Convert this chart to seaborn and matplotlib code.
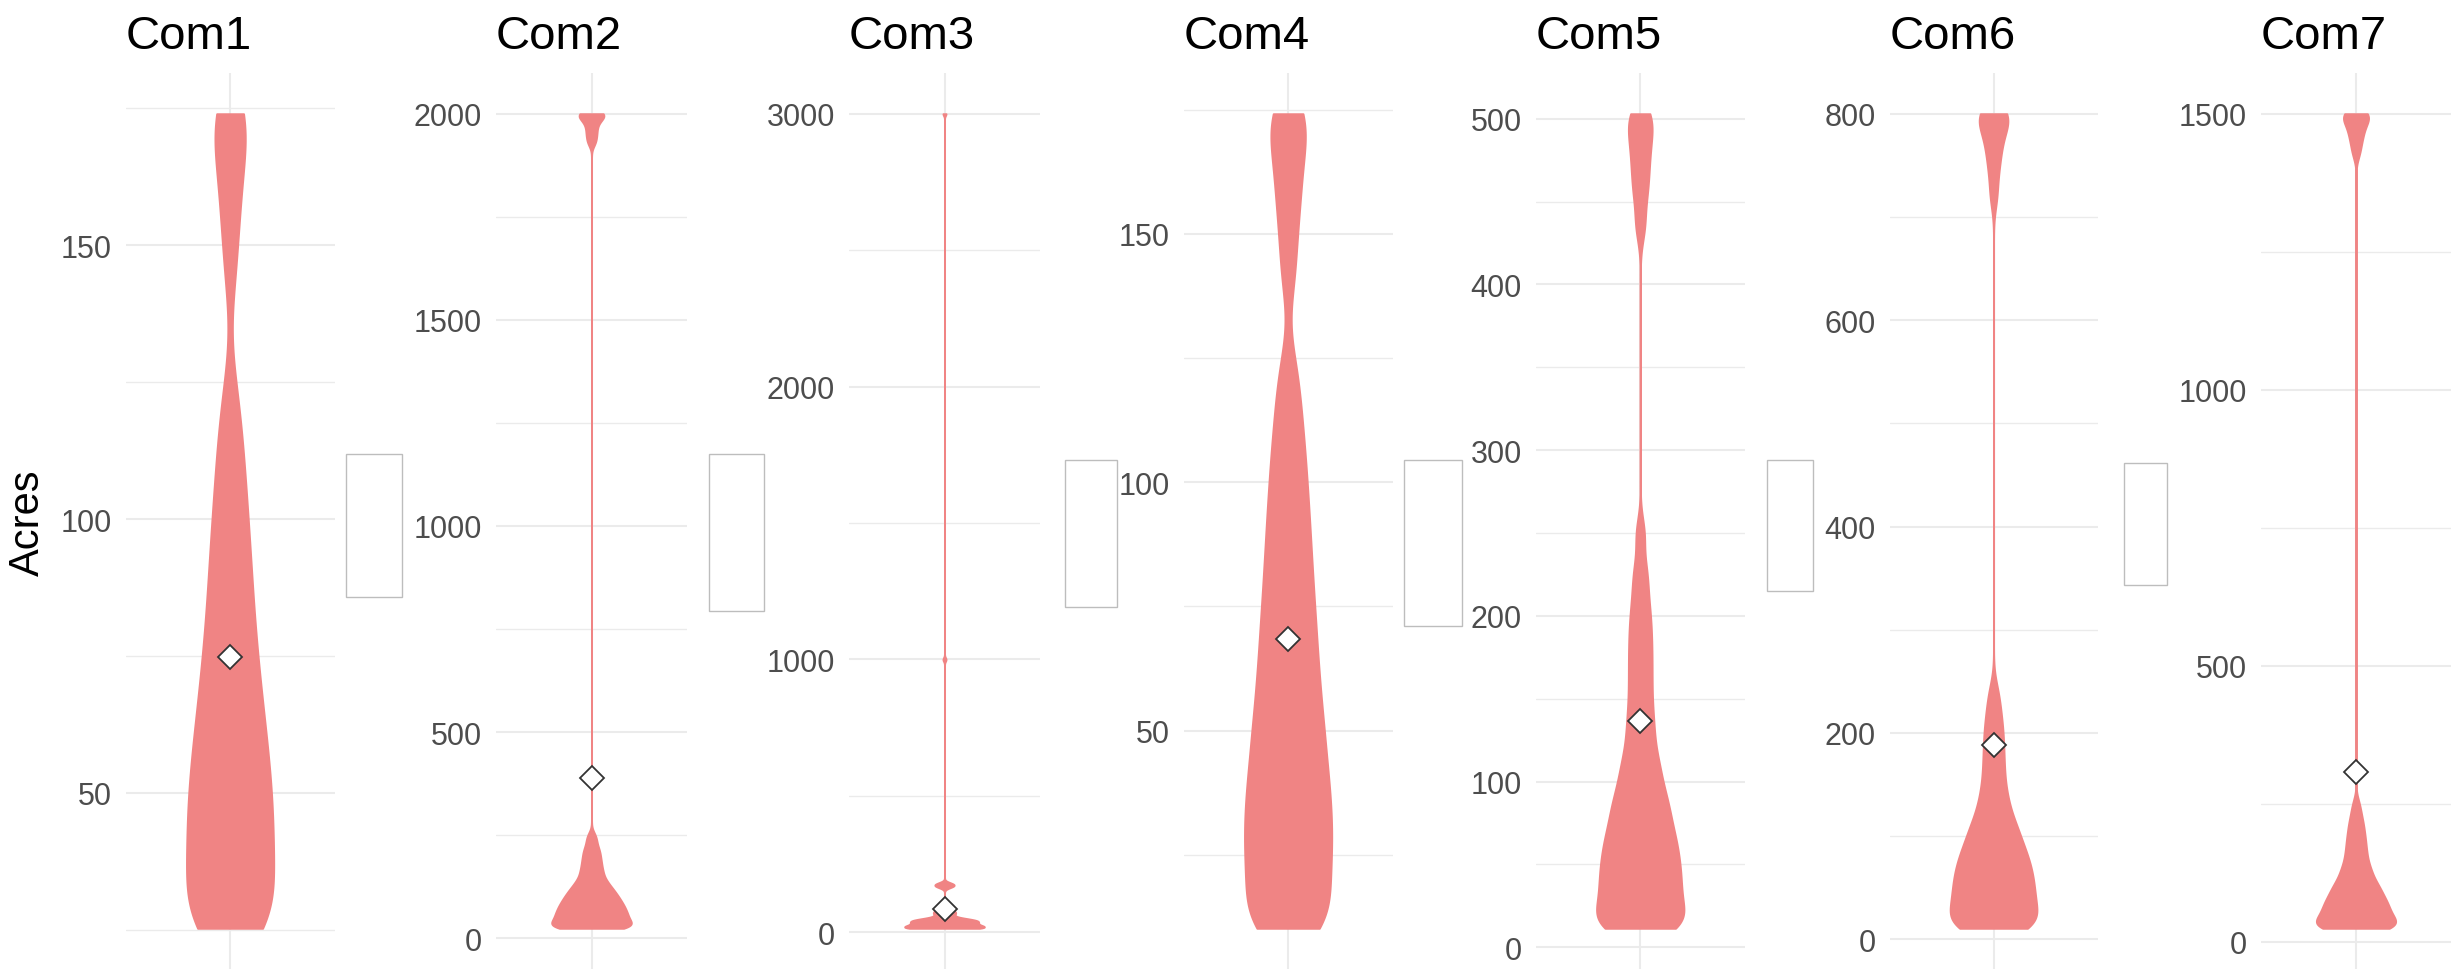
import numpy as np
import matplotlib
matplotlib.use("Agg")
import matplotlib.pyplot as plt
from matplotlib.patches import Rectangle
import seaborn as sns

# ── Dados ──────────────────────────────────────────────────────────────────
COMMUNITIES = ["Com1", "Com2", "Com3", "Com4", "Com5", "Com6", "Com7"]

ACRES_COM1 = [
    25.3, 25.3, 25.3, 25.3,
    25.7, 27.0, 28.3, 29.6, 30.8, 32.1, 33.3, 34.5, 35.7, 36.8, 38.0, 39.1,
    40.3, 41.5, 42.6, 43.8, 44.9, 46.1, 47.3, 48.4, 49.6, 50.8, 52.1, 53.3,
    54.6, 55.9, 57.1, 58.4, 59.7, 61.2, 62.7, 64.2, 65.7, 67.2, 68.6, 70.4,
    72.2, 74.0, 75.8, 77.6, 79.5, 81.7, 83.8, 86.0, 88.1, 90.5, 93.0, 95.4,
    97.9, 100.8, 103.8, 106.7, 110.2, 114.1, 118.0, 123.9, 144.8,
    152.1, 157.6, 161.9, 166.1, 169.7, 173.0, 174.0, 174.0,
]
ACRES_COM2 = [
    24.0, 24.0, 24.0, 24.0, 24.0,
    25.1, 27.2, 29.3, 31.4, 33.4, 35.5, 37.6, 39.7, 41.8, 43.9, 46.1, 48.2,
    50.3, 52.4, 54.6, 56.7, 58.8, 60.9, 63.1, 65.4, 67.7, 70.1, 72.4, 74.7,
    77.0, 79.4, 81.7, 84.2, 86.9, 89.6, 92.3, 95.0, 97.7, 100.4, 103.3,
    106.6, 109.9, 113.2, 116.5, 119.8, 123.5, 128.1, 132.6, 137.1, 142.0,
    148.5, 155.1, 161.7, 168.3, 176.2, 184.0, 191.8, 200.7, 209.8, 218.9,
    233.0, 248.4, 1930.0, 1946.2, 1960.3, 1974.5, 1984.6, 1993.3,
    2000.0, 2000.0, 2000.0,
]
ACRES_COM3 = [
    15.0, 15.0, 15.0, 15.0, 15.0, 15.0, 15.0, 15.0, 15.0, 15.0, 15.0, 15.0,
    15.4, 16.1, 16.9, 17.6, 18.4, 19.1, 19.9, 20.6, 21.4, 22.1, 22.9, 23.6,
    24.4, 25.1, 25.9, 26.7, 27.5, 28.3, 29.1, 29.9, 30.7, 31.5, 32.3, 33.1,
    33.9, 34.7, 35.5, 36.3, 37.1, 37.9, 38.7, 39.5, 40.3, 41.1, 41.9, 42.3,
    42.7, 43.5, 44.0, 44.3, 45.1, 45.9, 46.7, 47.5, 48.4, 49.3, 50.3, 51.4,
    52.6, 58.5, 61.0, 63.5, 66.0, 68.5, 71.0, 73.5, 74.8, 76.0, 78.5, 82.0,
    86.0, 90.0, 165.0, 168.0, 170.0, 172.0, 174.0, 176.0, 178.0, 180.0,
    1000.0, 3000.0,
]
ACRES_COM4 = [
    10.2, 10.2, 10.2,
    11.0, 12.6, 14.2, 15.8, 17.4, 18.9, 20.3, 21.7, 23.1, 24.5, 25.8, 27.1,
    28.5, 29.8, 31.2, 32.5, 33.9, 35.3, 36.7, 38.1, 39.5, 40.9, 42.4, 44.0,
    45.6, 47.2, 48.8, 50.4, 52.0, 53.7, 55.5, 57.4, 59.3, 61.1, 63.0, 65.0,
    67.1, 69.2, 71.3, 73.4, 75.6, 78.0, 80.4, 82.8, 85.2, 87.9, 90.6, 93.3,
    96.1, 99.2, 102.4, 105.6, 109.3, 113.4, 117.9, 123.7, 141.1,
    148.7, 154.8, 159.4, 163.8, 167.8, 171.3, 174.2, 174.2,
]
ACRES_COM5 = [
    11.5, 11.5, 11.5, 11.5,
    12.6, 14.9, 17.1, 19.3, 21.6, 23.8, 26.0, 28.3, 30.5, 32.7, 34.9, 37.1,
    39.4, 41.6, 43.8, 46.0, 48.2, 50.4, 52.8, 55.2, 57.6, 60.0, 62.4, 64.8,
    67.3, 69.7, 72.7, 75.7, 78.7, 81.8, 84.8, 87.8, 90.8, 94.4, 98.7, 103.0,
    107.3, 111.6, 116.5, 122.9, 129.4, 135.8, 142.5, 150.3, 158.0, 165.8,
    173.5, 181.3, 189.1, 197.5, 206.0, 217.5, 229.1, 249.5, 435.1, 452.6,
    463.9, 474.1, 483.6, 491.5, 499.5, 503.0,
]
ACRES_COM6 = [
    10.7, 10.7, 10.7, 10.7, 10.7,
    11.8, 14.0, 16.3, 18.5, 20.7, 22.9, 25.1, 27.3, 29.5, 31.7, 33.9, 36.0,
    38.2, 40.4, 42.5, 44.7, 46.9, 49.1, 51.4, 53.6, 55.9, 58.1, 60.4, 62.6,
    64.9, 67.1, 69.6, 72.1, 74.6, 77.2, 79.7, 82.2, 84.8, 87.3, 90.3, 93.7,
    97.2, 100.6, 104.1, 107.5, 111.0, 114.4, 119.7, 125.4, 131.1, 136.8,
    143.1, 151.2, 159.3, 167.5, 176.2, 185.0, 193.8, 203.3, 212.8, 225.1,
    239.9, 720.0, 742.4, 757.5, 769.3, 778.6, 787.9, 795.4, 799.0, 800.0,
    800.0,
]
ACRES_COM7 = [
    24.6, 24.6, 24.6, 24.6, 24.6, 24.6, 24.6,
    25.6, 27.6, 29.6, 31.5, 33.5, 35.5, 37.5, 39.5, 41.4, 43.4, 45.4, 47.4,
    49.4, 51.6, 53.8, 55.9, 58.1, 60.3, 62.5, 64.7, 66.9, 69.1, 71.3, 73.5,
    75.6, 77.8, 80.6, 83.5, 86.4, 89.3, 92.1, 95.0, 97.9, 100.7, 103.6,
    106.5, 110.6, 115.1, 119.5, 124.0, 128.5, 132.9, 137.5, 144.0, 150.4,
    156.9, 163.3, 170.4, 177.9, 185.4, 192.9, 201.7, 211.0, 220.3, 233.2,
    249.8, 1427.0, 1443.0, 1456.0, 1465.0, 1475.0, 1482.0, 1489.0, 1496.0,
    1500.0, 1500.0, 1500.0,
]
ACRES = [ACRES_COM1, ACRES_COM2, ACRES_COM3, ACRES_COM4,
         ACRES_COM5, ACRES_COM6, ACRES_COM7]

# média de cada comunidade (losango)
MEAN_ACRES = [74.8, 389, 86, 68.5, 136.6, 188, 308]

Y_TICKS = [
    [50, 100, 150],
    [0, 500, 1000, 1500, 2000],
    [0, 1000, 2000, 3000],
    [50, 100, 150],
    [0, 100, 200, 300, 400, 500],
    [0, 200, 400, 600, 800],
    [0, 500, 1000, 1500],
]

# largura de banda do KDE (em acres), por painel
KDE_BW = [7, 12, 7, 6, 10, 14, 14]

# ── Layout (pixels da imagem 2460x970) ─────────────────────────────────────
W, H = 2460, 970
PANEL_X = [(125.5, 334.7), (496, 687), (849, 1040), (1183.5, 1392.7),
           (1535.5, 1745), (1889.5, 2097.6), (2261, 2451)]
PANEL_TOP, PANEL_BOTTOM = 74, 970
KEY_BOXES = [(345.7, 455, 402.3, 597.6), (709, 455, 764, 612),
             (1065, 461, 1117, 608), (1404, 461, 1462, 627),
             (1767, 461, 1813, 592), (2124, 464, 2167, 586)]

FILL = "#F08484"
GRID = "#EBEBEB"

sns.set_theme(style="white")
plt.rcParams["font.family"] = ["Liberation Sans", "DejaVu Sans"]

fig = plt.figure(figsize=(W / 100, H / 100), dpi=100)
fig.patch.set_facecolor("white")

for i, (name, vals) in enumerate(zip(COMMUNITIES, ACRES)):
    x0, x1 = PANEL_X[i]
    ax = fig.add_axes([x0 / W, 1 - PANEL_BOTTOM / H,
                       (x1 - x0) / W, (PANEL_BOTTOM - PANEL_TOP) / H])

    # violino aparado nos extremos (cut=0), mesma largura máxima em todos
    sd = np.std(vals, ddof=1)
    sns.violinplot(
        y=vals, ax=ax, color=FILL, saturation=1, linecolor=FILL,
        linewidth=1.4, width=0.5, cut=0, gridsize=2000, inner=None,
        density_norm="width", bw_method=KDE_BW[i] / sd, legend=False,
    )
    ax.plot([0], [MEAN_ACRES[i]], ls="none", marker="D", ms=12.5,
            mfc="white", mec="#333333", mew=1.3, zorder=5)

    lo, hi = min(vals), max(vals)
    pad = 0.05 * (hi - lo)
    ax.set_ylim(lo - pad, hi + pad)
    ax.set_xlim(-0.6, 0.6)

    ticks = Y_TICKS[i]
    step = ticks[1] - ticks[0]
    minor = [t for t in np.arange(ticks[0] - step / 2, ticks[-1] + step, step)
             if lo - pad <= t <= hi + pad]
    ax.set_yticks(ticks)
    ax.set_yticklabels([str(t) for t in ticks])
    ax.set_yticks(minor, minor=True)
    ax.set_xticks([0])
    ax.set_xticklabels([""])

    ax.grid(True, which="major", color=GRID, lw=1.5)
    ax.grid(True, which="minor", axis="y", color=GRID, lw=1.0)
    ax.set_axisbelow(True)
    for s in ax.spines.values():
        s.set_visible(False)
    ax.tick_params(which="both", length=0)
    ax.tick_params(axis="y", labelsize=22, labelcolor="#4D4D4D", pad=10)
    ax.set_xlabel("")
    ax.set_ylabel("")
    ax.set_title(name, loc="left", fontsize=34, pad=17.7, color="black")

fig.text(28 / W, 1 - 523 / H, "Acres", rotation=90, ha="center",
         va="center", fontsize=30, color="black")

# caixas de legenda vazias entre os painéis
for bx0, by0, bx1, by1 in KEY_BOXES:
    fig.add_artist(Rectangle((bx0 / W, 1 - by1 / H), (bx1 - bx0) / W,
                             (by1 - by0) / H, transform=fig.transFigure,
                             facecolor="white", edgecolor="#BDBDBD", lw=1.0))

fig.savefig("out.png", dpi=100)
plt.close(fig)
